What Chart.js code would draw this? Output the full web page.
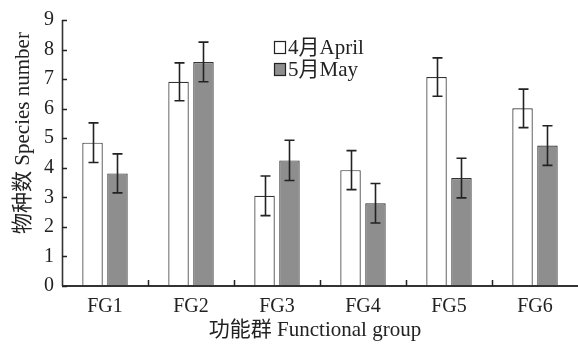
<!DOCTYPE html>
<html>
<head>
<meta charset="utf-8">
<script src="https://cdn.jsdelivr.net/npm/chart.js@4.4.1/dist/chart.umd.min.js"></script>
<style>
  html, body { margin: 0; padding: 0; background: #fff; }
  #wrap { width: 578px; height: 350px; position: relative; }
</style>
</head>
<body>
<div id="wrap"><canvas id="c" width="578" height="350"></canvas></div>
<script>
// Functional groups and species counts (mean ± error) for two sampling months
const categories = ['FG1', 'FG2', 'FG3', 'FG4', 'FG5', 'FG6'];
const seriesNames = ['4月April', '5月May'];
const aprilValues = [4.85, 6.91, 3.05, 3.92, 7.07, 6.01];
const aprilErrors = [0.67, 0.64, 0.67, 0.66, 0.65, 0.65];
const mayValues = [3.81, 7.58, 4.25, 2.80, 3.65, 4.75];
const mayErrors = [0.66, 0.67, 0.68, 0.67, 0.67, 0.67];
const yTickValues = [0, 1, 2, 3, 4, 5, 6, 7, 8, 9];
const xTitle = '功能群 Functional group';
const yTitle = '物种数 Species number';

const FONT = "'Liberation Serif', 'Times New Roman', 'Noto Sans CJK SC', serif";
const INK = '#222';
const errorSets = [aprilErrors, mayErrors];

// Error bars with caps, drawn from each bar's value through the y scale
const errorBarPlugin = {
  id: 'errorBars',
  afterDatasetsDraw(chart) {
    const ctx = chart.ctx;
    const y = chart.scales.y;
    ctx.save();
    ctx.strokeStyle = INK;
    ctx.lineWidth = 1.6;
    chart.data.datasets.forEach((ds, di) => {
      const meta = chart.getDatasetMeta(di);
      meta.data.forEach((bar, i) => {
        const v = ds.data[i];
        const e = errorSets[di][i];
        const x = Math.round(bar.x) + 0.5;
        const yt = y.getPixelForValue(v + e);
        const yb = y.getPixelForValue(v - e);
        ctx.beginPath();
        ctx.moveTo(x, yt); ctx.lineTo(x, yb);
        ctx.moveTo(x - 5, yt); ctx.lineTo(x + 5, yt);
        ctx.moveTo(x - 5, yb); ctx.lineTo(x + 5, yb);
        ctx.stroke();
      });
    });
    ctx.restore();
  }
};

// Axis lines, inward tick marks, axis titles and the legend
const decorPlugin = {
  id: 'decor',
  afterDraw(chart) {
    const ctx = chart.ctx;
    const xs = chart.scales.x, ys = chart.scales.y;
    const area = chart.chartArea;
    ctx.save();
    ctx.strokeStyle = '#333';
    ctx.lineWidth = 1.6;
    ctx.beginPath();
    ctx.moveTo(area.left + 0.5, area.top);
    ctx.lineTo(area.left + 0.5, area.bottom);
    ctx.stroke();
    ctx.lineWidth = 2;
    ctx.beginPath();
    ctx.moveTo(area.left, area.bottom);
    ctx.lineTo(area.right, area.bottom);
    ctx.stroke();

    ctx.strokeStyle = INK;
    ctx.lineWidth = 1.5;
    ctx.beginPath();
    yTickValues.forEach(v => {
      const py = Math.round(ys.getPixelForValue(v)) + 0.5;
      ctx.moveTo(area.left, py); ctx.lineTo(area.left + 5, py);
    });
    for (let i = 1; i < categories.length; i++) {
      const px = Math.round((xs.getPixelForValue(i - 1) + xs.getPixelForValue(i)) / 2) + 0.5;
      ctx.moveTo(px, area.bottom); ctx.lineTo(px, area.bottom - 6);
    }
    ctx.stroke();

    // axis titles
    ctx.fillStyle = INK;
    ctx.font = '21px ' + FONT;
    ctx.textAlign = 'center';
    ctx.textBaseline = 'middle';
    ctx.fillText(xTitle, 315, 330);
    ctx.save();
    ctx.translate(23, 133);
    ctx.rotate(-Math.PI / 2);
    ctx.fillText(yTitle, 0, 0);
    ctx.restore();

    // legend
    ctx.textAlign = 'left';
    chart.data.datasets.forEach((ds, di) => {
      const cy = 47.5 + di * 22;
      ctx.fillStyle = ds.backgroundColor;
      ctx.fillRect(274.5, cy - 6, 11, 12);
      ctx.lineWidth = 1.2;
      ctx.strokeStyle = INK;
      ctx.strokeRect(274.5, cy - 6, 11, 12);
      ctx.fillStyle = INK;
      ctx.fillText(ds.label, 288, cy + 1);
    });
    ctx.restore();
  }
};

new Chart(document.getElementById('c'), {
  type: 'bar',
  data: {
    labels: categories,
    datasets: [
      {
        label: seriesNames[0],
        data: aprilValues,
        backgroundColor: '#ffffff',
        borderColor: '#333',
        borderWidth: 1.2,
        categoryPercentage: 0.58,
        barPercentage: 0.82
      },
      {
        label: seriesNames[1],
        data: mayValues,
        backgroundColor: '#8e8e8e',
        borderColor: '#333',
        borderWidth: 1.2,
        categoryPercentage: 0.58,
        barPercentage: 0.82
      }
    ]
  },
  options: {
    responsive: false,
    animation: false,
    devicePixelRatio: 1,
    layout: { padding: { top: 20, right: 0, left: 0, bottom: 0 } },
    plugins: {
      legend: { display: false },
      tooltip: { enabled: false }
    },
    scales: {
      x: {
        offset: true,
        grid: { display: false, drawTicks: false },
        border: { display: false },
        ticks: {
          padding: 9,
          color: INK,
          font: { family: FONT, size: 20 }
        },
        afterFit(scale) { scale.height = 64; }
      },
      y: {
        min: 0,
        max: 9,
        afterBuildTicks(scale) { scale.ticks = yTickValues.map(v => ({ value: v })); },
        grid: { display: false, drawTicks: false },
        border: { display: false },
        ticks: {
          padding: 8,
          color: INK,
          font: { family: FONT, size: 20 }
        },
        afterFit(scale) { scale.width = 62; }
      }
    }
  },
  plugins: [errorBarPlugin, decorPlugin]
});
</script>
</body>
</html>
